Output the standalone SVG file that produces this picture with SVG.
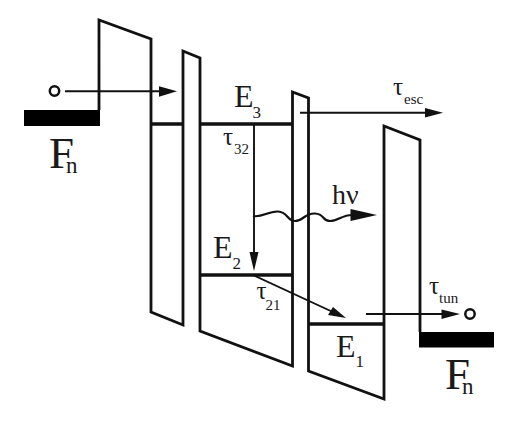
<svg xmlns="http://www.w3.org/2000/svg" width="528" height="427" viewBox="0 0 528 427">
<style>
.l{fill:none;stroke:#111;stroke-width:2.8;stroke-linejoin:miter}
.lv{fill:none;stroke:#111;stroke-width:3.3}
.a{fill:none;stroke:#111;stroke-width:1.9}
.h{fill:#111;stroke:none}
.c{fill:#fff;stroke:#111;stroke-width:2.5}
.b{fill:#000}
text{font-family:"Liberation Serif","Times New Roman",serif;fill:#1a1a1a}
.f{font-size:45px}
.f tspan{font-size:23px}
.e{font-size:32px}
.e tspan{font-size:17px}
.t{font-size:25px}
.t tspan{font-size:15px}
</style>
<rect width="528" height="427" fill="#fff"/>
<g id="barriers">
<path class="l" d="M99 110V20L151 39V312L183 325V51L200 58V331L292.500 366V92L308.500 98V371L384 399V126L420 140V332"/>
</g>
<g id="contact-left"><rect class="b" x="24" y="110" width="76" height="16"/>
<text class="f" x="49" y="168">F<tspan dx="-8" dy="5">n</tspan></text></g>
<g id="contact-right"><rect class="b" x="419" y="332" width="75" height="15.500"/>
<text class="f" x="445" y="389">F<tspan dx="-8" dy="5">n</tspan></text></g>
<g id="level-E3"><path class="lv" d="M151 124H183M200 124H292"/>
<text class="e" x="234" y="107">E<tspan dx="-1" dy="11">3</tspan></text></g>
<g id="level-E2"><path class="lv" d="M200 275H293"/>
<text class="e" x="213" y="258">E<tspan dx="0" dy="10.500">2</tspan></text></g>
<g id="level-E1"><path class="lv" d="M308 324H384"/>
<text class="e" x="336" y="357">E<tspan dx="0" dy="10">1</tspan></text></g>
<g id="electron-left"><circle class="c" cx="54.500" cy="91" r="4.700"/></g>
<g id="electron-right"><circle class="c" cx="470" cy="314" r="4.700"/></g>
<g id="connectors">
<path class="a" d="M65 91.300H162"/><path class="h" d="M159 86.300L177 91.300L159 96.800Z"/>
<path class="a" d="M300 112.800H428"/><path class="h" d="M425 108L443 112.800L425 117.500Z"/>
<path class="a" d="M366 314H444"/><path class="h" d="M441.500 309.500L460 314L441.500 319Z"/>
<path class="a" d="M254 124V255"/><path class="h" d="M249.500 252H258.500L254 271Z"/>
<path class="a" d="M253 275L335 313"/><path class="h" d="M333 307L346 318L328 315Z"/>
<path class="a" style="stroke-width:2.2" d="M253 216C262 218 268 211 278 211.500S287 221 295 221 305 213 315 213.500 322 221 330 221 342 215 352 215"/>
<path class="h" d="M350.500 209L377 215L350.500 221Z"/>
</g>
<g id="labels">
<text class="t" x="223" y="145">τ<tspan dx="1" dy="9">32</tspan></text>
<text class="t" x="256.500" y="299">τ<tspan dx="-1" dy="11">21</tspan></text>
<text class="t" x="393" y="95">τ<tspan dx="1" dy="9">esc</tspan></text>
<text class="t" x="429" y="294">τ<tspan dx="0" dy="9">tun</tspan></text>
<text x="332" y="203.500" style="font-size:28px">hν</text>
</g>
</svg>
